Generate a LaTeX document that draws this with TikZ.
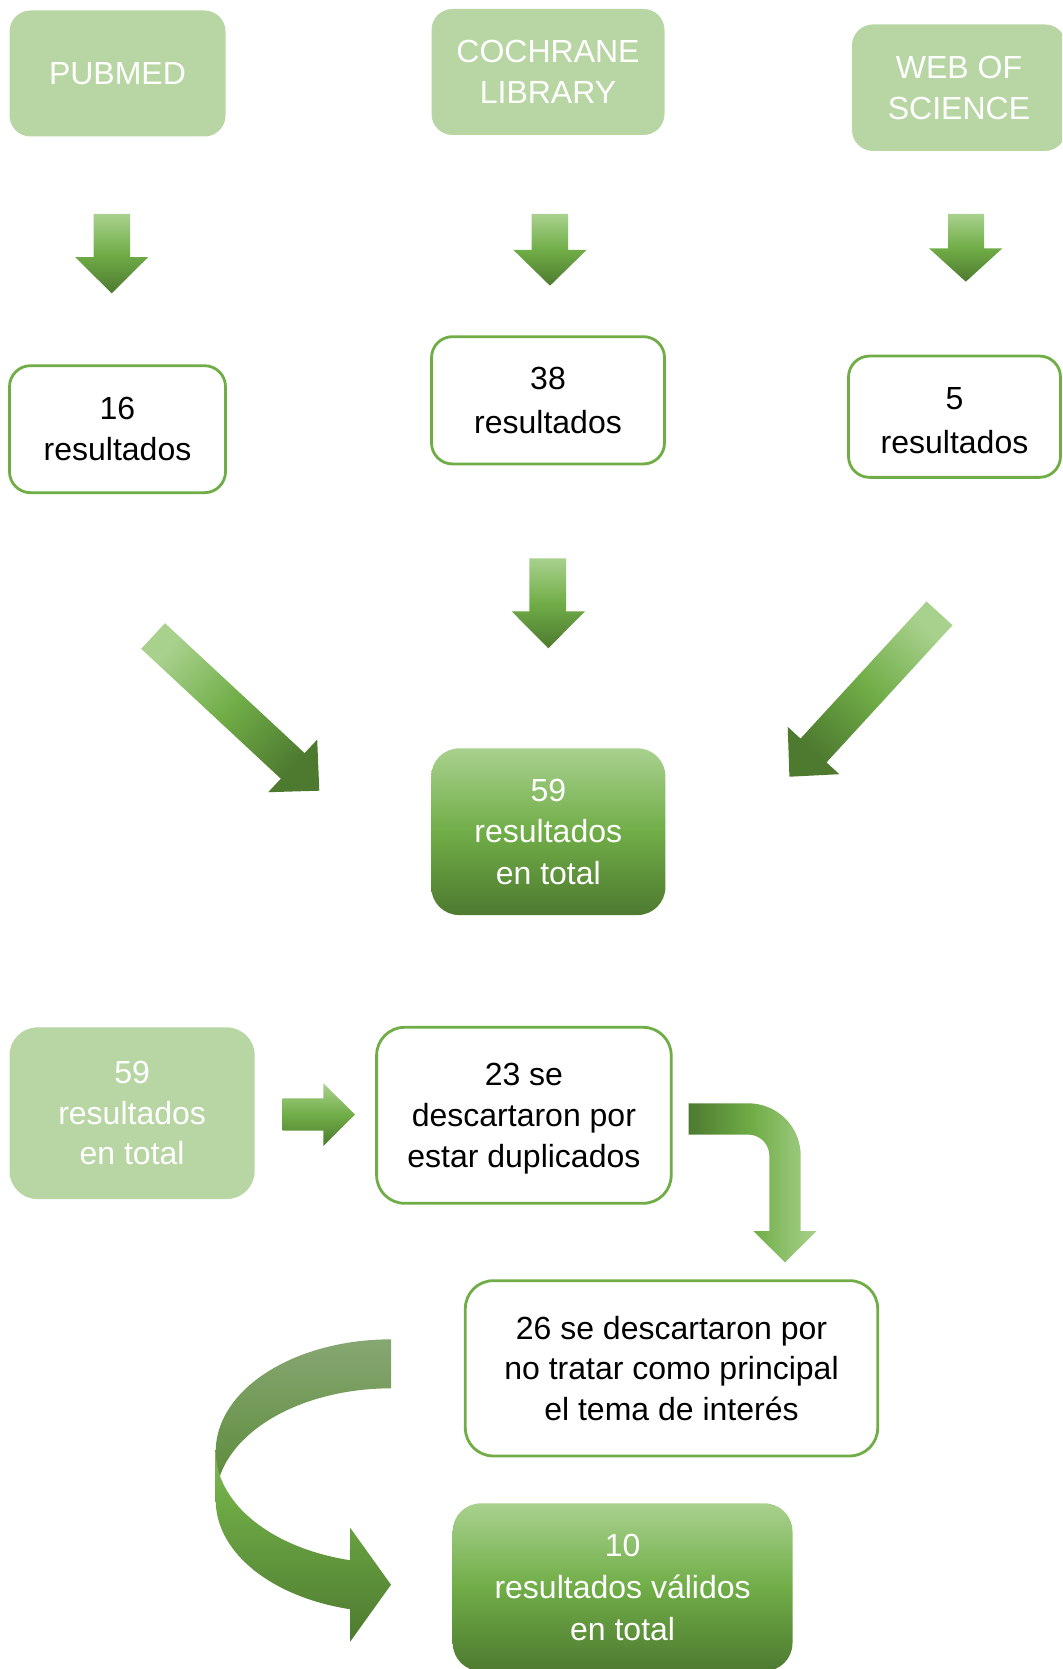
\documentclass[tikz,border=0pt]{standalone}
\usepackage{fontspec}
\setmainfont{Liberation Sans}
\definecolor{gmid}{HTML}{70AD47}
\definecolor{glight}{HTML}{A9D18E}
\definecolor{gdark}{HTML}{4E7A30}
\definecolor{gpale}{HTML}{B8D6A3}
\definecolor{bklight}{HTML}{87A772}
\definecolor{bkmid}{HTML}{5A8A39}
\definecolor{bkdark}{HTML}{3E6226}
\tikzset{
  boxtext/.style={font=\fontsize{16}{20.3}\selectfont, align=center, inner sep=0pt, outer sep=0pt},
  widetext/.style={font=\fontsize{16}{21.8}\selectfont},
  palebox/.style={boxtext, fill=gpale, text=white, rounded corners=10.5pt},
  linebox/.style={boxtext, fill=white, draw=gmid, line width=1.4pt, text=black, rounded corners=10.5pt},
  gradbox/.style={boxtext, top color=glight, bottom color=gdark, middle color=gmid, text=white, rounded corners=14pt},
  blockarrow/.style={top color=glight, bottom color=gdark, middle color=gmid},
}
\begin{document}
\begin{tikzpicture}[x=0.5pt,y=-0.5pt]
\useasboundingbox (0,0) rectangle (1062,1669);
\clip (0,0) rectangle (1062,1669);

% top row: databases
\node[palebox, minimum width=108pt, minimum height=63pt] (pubmed) at (117.5,73.5) {PUBMED};
\node[palebox, minimum width=116.5pt, minimum height=63pt] (cochrane) at (548,72) {COCHRANE\\LIBRARY};
\node[palebox, minimum width=107pt, minimum height=63.25pt] (wos) at (959,87.7) {WEB OF\\SCIENCE};

% down arrows row 1
\path[blockarrow] (93.5,214) -- (130,214) -- (130,257) -- (148.3,257) -- (111.7,293.3) -- (75,257) -- (93.5,257) -- cycle;
\path[blockarrow] (531.7,214) -- (568.2,214) -- (568.2,250) -- (586.5,250) -- (550,285.7) -- (513.4,250) -- (531.7,250) -- cycle;
\path[blockarrow] (948.2,214) -- (984,214) -- (984,248.3) -- (1002.4,248.3) -- (965.8,281.7) -- (929,248.3) -- (948.2,248.3) -- cycle;

% result boxes
\node[linebox, minimum width=108pt, minimum height=63.5pt] (r16) at (117.5,429.2) {16\\resultados};
\node[linebox, widetext, minimum width=116.5pt, minimum height=63.65pt] (r38) at (548,400.3) {38\\resultados};
\node[linebox, widetext, minimum width=106pt, minimum height=60.65pt] (r5) at (954.5,416.7) {\rule{0pt}{14.7pt}5\\resultados};

% arrows to total
\path[blockarrow] (529.4,558.3) -- (566.1,558.3) -- (566.1,611.3) -- (585,611.3) -- (548.3,648.3) -- (511.6,611.3) -- (529.4,611.3) -- cycle;
\path[top color=glight, bottom color=gdark, middle color=gmid, shading angle=47]
  (141.2,648.8) -- (165,623.2) -- (304.6,753.1) -- (317.2,739.6) -- (319.3,790.7) -- (268.2,792.2) -- (280.8,778.7) -- cycle;
\path[top color=glight, bottom color=gdark, middle color=gmid, shading angle=-42.6]
  (926.5,601.4) -- (952.5,625.2) -- (826.5,762.4) -- (839.3,774.2) -- (789.4,776.7) -- (787.7,726.8) -- (800.5,738.6) -- cycle;

\node[gradbox, font=\fontsize{16}{20.7}\selectfont, minimum width=117.1pt, minimum height=83.35pt] (tot) at (548.3,831.7) {59\\resultados\\en total};

% lower part
\node[palebox, rounded corners=14pt, minimum width=122.6pt, minimum height=85.85pt] (tot2) at (132.1,1113.2) {59\\resultados\\en total};
\node[linebox, rounded corners=14pt, text depth=0pt, minimum width=147.3pt, minimum height=88pt] (dup) at (523.9,1115.3) {23 se\\descartaron por\\estar duplicados};
\path[blockarrow] (282.7,1098.3) -- (323.3,1098.3) -- (323.3,1083.3) -- (355,1114.5) -- (323.3,1146) -- (323.3,1130.7) -- (282.7,1130.7) -- cycle;

% bent arrow
\path[left color=gdark, right color=glight, middle color=gmid]
  (688.5,1103.3) -- plot[domain=270:360, samples=30] ({748.3+52.4*cos(\x)},{1155.7+52.4*sin(\x)})
  -- (800.7,1231) -- (816.7,1231) -- (785,1262.3) -- (753.3,1231) -- (769.3,1231)
  -- plot[domain=360:270, samples=30] ({748.3+21*cos(\x)},{1155.7+21*sin(\x)})
  -- (688.5,1134.7) -- cycle;

\node[linebox, rounded corners=14pt, minimum width=206.2pt, minimum height=87.65pt] (int) at (671.5,1368.3) {26 se descartaron por\\no tratar como principal\\el tema de interés};

% curved arrow: back band
\begin{scope}
\clip plot[domain=270:180, samples=40] ({391+175.3*cos(\x)},{1451.3+112*sin(\x)})
  -- plot[domain=180:270, samples=40] ({391+175.3*cos(\x)},{1500.3+112*sin(\x)}) -- cycle;
\shade[top color=bklight, bottom color=bkdark, middle color=bkmid] (214,1339) rectangle (392,1643);
\end{scope}
% curved arrow: front band with head
\begin{scope}
\clip plot[domain=180:103.53, samples=40] ({391+175.3*cos(\x)},{1451.3+112*sin(\x)})
  -- (350,1527.5) -- (391,1584.7) -- (350,1641.9) -- (350,1609.2)
  -- plot[domain=103.53:180, samples=40] ({391+175.3*cos(\x)},{1500.3+112*sin(\x)}) -- cycle;
\shade[top color=glight, bottom color=gdark, middle color=gmid] (214,1339) rectangle (392,1643);
\end{scope}

\node[gradbox, font=\fontsize{16}{21}\selectfont, minimum width=169.9pt, minimum height=83.85pt] (val) at (622.6,1587.2) {10\\resultados válidos\\en total};
\end{tikzpicture}
\end{document}
